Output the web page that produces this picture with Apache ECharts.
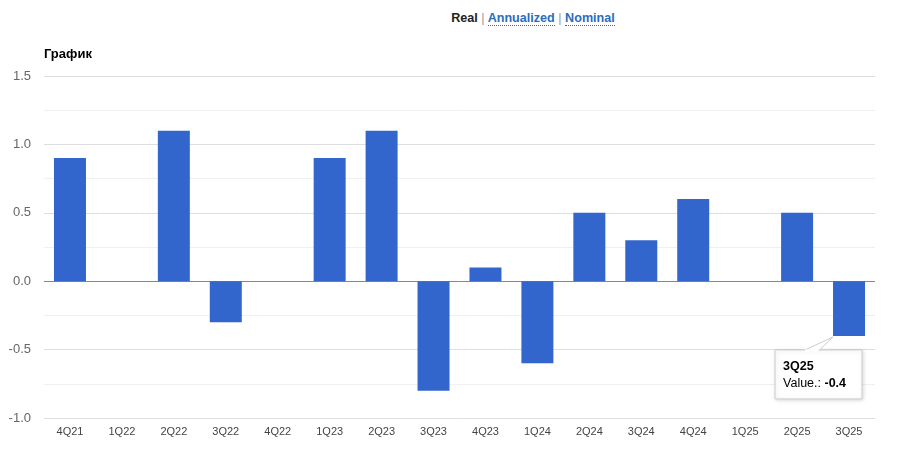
<!DOCTYPE html>
<html><head><meta charset="utf-8">
<script src="https://cdn.jsdelivr.net/npm/echarts@6/dist/echarts.min.js"></script>
<style>
html,body{margin:0;padding:0;background:#fff;}
#c{width:900px;height:456px;}
#links{position:absolute;left:0;top:11px;width:900px;text-align:center;font:bold 12.6px Arial,"Liberation Sans",sans-serif;padding-left:166px;box-sizing:border-box;}
#links .r{color:#222;}
#links .s{color:#999;font-weight:normal;}
#links .a{color:#2a6ebb;border-bottom:1px dotted #2a6ebb;}
</style></head>
<body>
<div id="links"><span class="r">Real</span> <span class="s">|</span> <span class="a">Annualized</span> <span class="s">|</span> <span class="a">Nominal</span></div>
<div id="c"></div>
<script>
var categories = ['4Q21','1Q22','2Q22','3Q22','4Q22','1Q23','2Q23','3Q23','4Q23','1Q24','2Q24','3Q24','4Q24','1Q25','2Q25','3Q25'];
var values = [0.9, 0, 1.1, -0.3, 0, 0.9, 1.1, -0.8, 0.1, -0.6, 0.5, 0.3, 0.6, 0, 0.5, -0.4];
var tipIndex = 15;

var chart = echarts.init(document.getElementById('c'));
chart.setOption({
  animation:false,
  title:{text:'График',left:39,top:43,textStyle:{fontFamily:'Arial, Liberation Sans',fontSize:13,fontWeight:'bold',color:'#000'}},
  grid:{left:44,right:25,top:76,bottom:38},
  xAxis:{type:'category',data:categories,
    axisLine:{show:false,onZero:false},
    axisTick:{show:false},
    axisLabel:{color:'#444',fontSize:11,fontFamily:'Arial, Liberation Sans',margin:8}
  },
  yAxis:{type:'value',min:-1,max:1.5,interval:0.5,
    axisLine:{show:false},axisTick:{show:false},
    axisLabel:{color:'#666',fontSize:13,fontFamily:'Arial, Liberation Sans',margin:13,formatter:function(v){return v.toFixed(1);}},
    splitLine:{lineStyle:{color:'#dedede'}},
    minorTick:{show:false,splitNumber:2},
    minorSplitLine:{show:true,lineStyle:{color:'#f0f0f0'}}
  },
  series:[{type:'bar',data:values,barWidth:32,itemStyle:{color:'#3366cc'},
    markLine:{silent:true,symbol:'none',label:{show:false},lineStyle:{color:'#888',type:'solid',width:1},data:[{yAxis:0}],z:1}
  }]
});

function drawTip(){
  var p = chart.convertToPixel({xAxisIndex:0,yAxisIndex:0},[categories[tipIndex],values[tipIndex]]);
  var bx = p[0]-74, by = p[1]+14, bw = 87, bh = 49;
  var ax = p[0]-16, ay = p[1]+1;
  chart.setOption({graphic:[
    {type:'rect',shape:{x:bx,y:by,width:bw,height:bh},style:{fill:'#fff',stroke:'#ccc',lineWidth:1,shadowBlur:4,shadowColor:'rgba(0,0,0,0.15)',shadowOffsetX:1,shadowOffsetY:1},z:100},
    {type:'polygon',shape:{points:[[bx+29,by+0.5],[ax,ay],[bx+44,by+0.5]]},style:{fill:'#fff',stroke:'#ccc',lineWidth:1},z:101},
    {type:'line',shape:{x1:bx+29.5,y1:by+0.5,x2:bx+43.5,y2:by+0.5},style:{stroke:'#fff',lineWidth:2},z:102},
    {type:'text',x:bx+8,y:by+10,style:{text:categories[tipIndex],font:'bold 12.5px Arial, Liberation Sans',fill:'#000'},z:103},
    {type:'text',x:bx+8,y:by+27,style:{rich:{a:{font:'12.5px Arial, Liberation Sans',fill:'#000'},b:{font:'bold 12.5px Arial, Liberation Sans',fill:'#000'}},text:'{a|Value.: }{b|'+values[tipIndex].toFixed(1)+'}'},z:103}
  ]});
}
drawTip();
</script>
</body></html>
